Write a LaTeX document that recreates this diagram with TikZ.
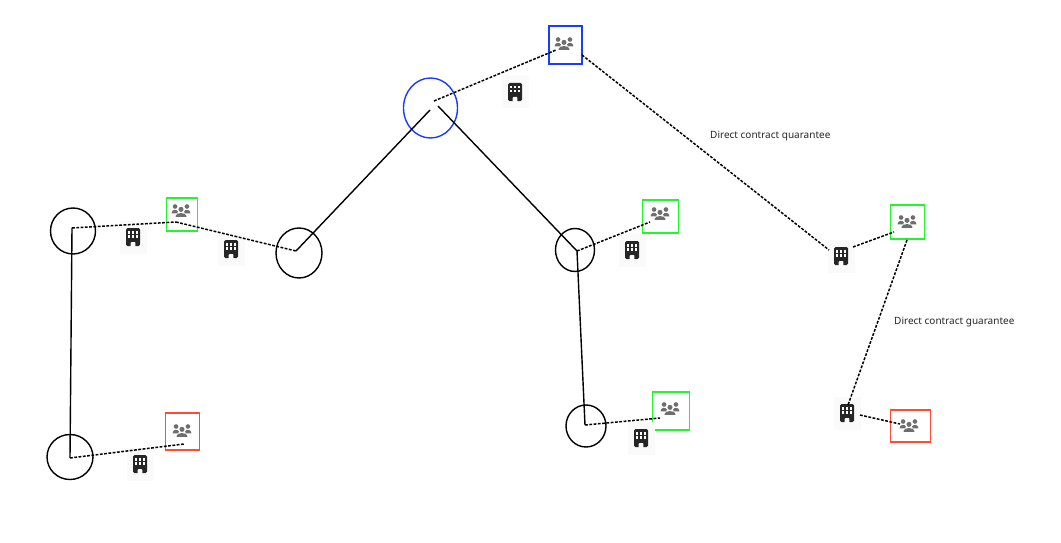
\documentclass[tikz,border=0pt]{standalone}
\usepackage{fontspec}
\usetikzlibrary{shapes.geometric}
\setmainfont{Noto Sans}
\definecolor{bluec}{HTML}{1A3CFF}
\definecolor{greenc}{HTML}{22F52E}
\definecolor{redc}{HTML}{FF4B33}
\definecolor{icong}{HTML}{6E6E6E}
\definecolor{iconb}{HTML}{262626}
\definecolor{iconbg}{HTML}{FAFAFA}
\tikzset{
  solidlink/.style={draw=black,line width=1.4pt},
  dashlink/.style={draw=black,line width=1.5pt,dash pattern=on 2.8pt off 1.5pt},
  hub/.style={draw=black,line width=1.4pt,shape=ellipse,inner sep=0pt},
  bluehub/.style={hub,draw=bluec},
  party/.style={draw=#1,line width=1.7pt,fill=white,inner sep=0pt,minimum width=33pt,minimum height=33pt},
  lbl/.style={font=\fontsize{10}{12}\selectfont,text=black!85,inner sep=0pt,anchor=west},
  pics/people/.style={code={
    \begin{scope}[scale=1.1,yshift=0.6pt]
    \fill[icong] (-5.4,-4.4) circle (2.1);
    \fill[icong] (5.4,-4.4) circle (2.1);
    \fill[icong] (0,-1.8) circle (2.3);
    \fill[icong] (-8.6,1.8) .. controls (-8.6,-2) and (-3.5,-2.2) .. (-2.8,0.2) -- (-3.6,1.8) -- cycle;
    \fill[icong] (8.6,1.8) .. controls (8.6,-2) and (3.5,-2.2) .. (2.8,0.2) -- (3.6,1.8) -- cycle;
    \fill[icong] (-4.8,5) -- (-4.8,4) .. controls (-4.8,0.8) and (4.8,0.8) .. (4.8,4) -- (4.8,5) -- cycle;
    \end{scope}
  }},
  pics/building/.style={code={
    \fill[iconbg] (-13.5,-16.5) rectangle (13.5,16.5);
    \fill[iconb,rounded corners=1.5pt] (-7,-9) rectangle (7,9.2);
    \fill[iconbg,rounded corners=0.8pt] (-2.3,5) rectangle (2.3,11);
    \fill[iconbg] (-2.3,8) rectangle (2.3,9.4);
    \foreach \yy in {-4.6,-0.6}{
      \foreach \xx in {-3.9,0,3.9}{
        \fill[white] (\xx-1.1,\yy-1.1) rectangle (\xx+1.1,\yy+1.1);
      }
    }
  }},
}
\begin{document}
\begin{tikzpicture}[x=1pt,y=-1pt]
\useasboundingbox (0,0) rectangle (1061,543);
% hubs
\node[bluehub,minimum width=54pt,minimum height=60pt] (hubtop) at (430.5,108) {};
\node[hub,minimum width=45pt,minimum height=46pt] (hubL1) at (73,231) {};
\node[hub,minimum width=46pt,minimum height=45pt] (hubL2) at (70,457) {};
\node[hub,minimum width=46pt,minimum height=50pt] (hubM) at (299,253) {};
\node[hub,minimum width=39pt,minimum height=43pt] (hubR1) at (575,250) {};
\node[hub,minimum width=40pt,minimum height=42pt] (hubR2) at (586,426) {};
% party boxes
\node[party=bluec,line width=2pt,minimum width=33pt,minimum height=38pt] (pBlue) at (565.5,45) {};
\node[party=greenc,minimum width=31pt,minimum height=33pt] (pG1) at (182,214.5) {};
\node[party=greenc,minimum width=36pt,minimum height=33pt] (pG2) at (660.5,216.5) {};
\node[party=greenc,minimum width=37pt,minimum height=38pt] (pG3) at (671,411) {};
\node[party=greenc,minimum width=34pt,minimum height=34pt] (pG4) at (907.5,222) {};
\node[party=redc,minimum width=34pt,minimum height=37pt] (pR1) at (182.5,431.5) {};
\node[party=redc,minimum width=40pt,minimum height=32pt] (pR2) at (910.5,426) {};
% icons
\foreach \xa/\ya in {564/45,181/212,660/215,670/410,907/223,182/432,909/427}{
  \pic at (\xa,\ya) {people};
}
\foreach \xa/\ya in {515/92,133/237,231/249,632/250,841/256,847/413,641/438,140/464}{
  \pic at (\xa,\ya) {building};
}
% connector anchors
\coordinate (aL1) at (72,228);
\coordinate (aL2) at (70,458);
\coordinate (aG1) at (176,222);
\coordinate (aM) at (296,251);
\coordinate (aTa) at (430,110);
\coordinate (aTb) at (438,106);
\coordinate (aTc) at (434,101);
\coordinate (aBa) at (556,50);
\coordinate (aBb) at (582,55);
\coordinate (aR1) at (577,251);
\coordinate (aR2) at (585,425);
\coordinate (aG2) at (650,222);
\coordinate (aG3) at (660,418);
\coordinate (aR1p) at (184,444);
\coordinate (bC) at (829,250);
\coordinate (bCb) at (853,247);
\coordinate (aG4a) at (894,232);
\coordinate (aG4b) at (907,240);
\coordinate (bD) at (848,405);
\coordinate (bDb) at (860,415);
\coordinate (aR2p) at (900,424);
% solid
\draw[solidlink] (aL1) -- (aL2);
\draw[solidlink] (aM) -- (aTa);
\draw[solidlink] (aTb) -- (aR1);
\draw[solidlink] (aR1) -- (aR2);
% dashed
\draw[dashlink] (aL1) -- (aG1);
\draw[dashlink] (aG1) -- (aM);
\draw[dashlink] (aTc) -- (aBa);
\draw[dashlink] (aBb) -- (bC);
\draw[dashlink] (bCb) -- (aG4a);
\draw[dashlink] (aG4b) -- (bD);
\draw[dashlink] (bDb) -- (aR2p);
\draw[dashlink] (aR1) -- (aG2);
\draw[dashlink] (aR2) -- (aG3);
\draw[dashlink] (aL2) -- (aR1p);
% labels
\node[lbl] (t1) at (710,136) {Direct contract quarantee};
\node[lbl] (t2) at (894,322) {Direct contract guarantee};
\end{tikzpicture}
\end{document}
